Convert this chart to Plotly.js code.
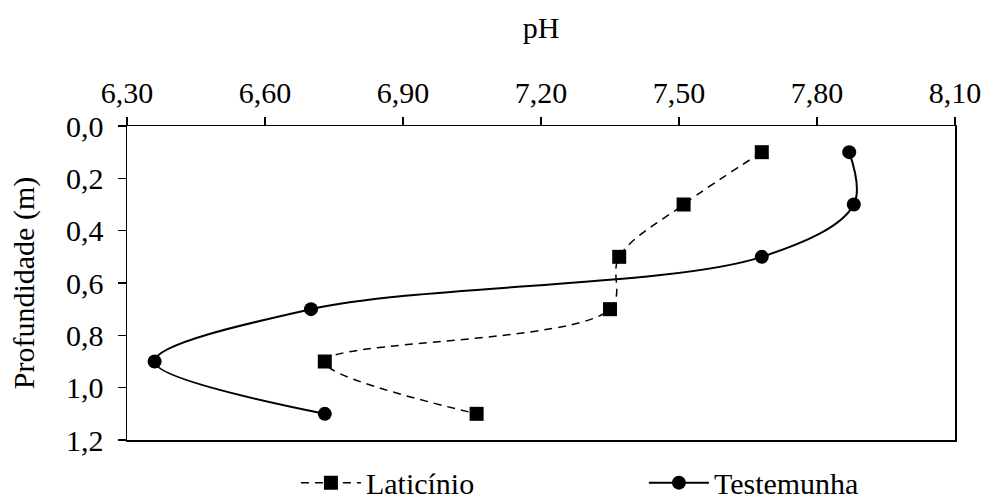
<!DOCTYPE html>
<html>
<head>
<meta charset="utf-8">
<script src="https://cdn.plot.ly/plotly-3.0.1.min.js"></script>
<style>html,body{margin:0;padding:0;background:#fff;}#chart{width:986px;height:502px;}</style>
</head>
<body>
<div id="chart"></div>
<script>
const depth = [0.1, 0.3, 0.5, 0.7, 0.9, 1.1];
const phLaticinio = [7.68, 7.51, 7.37, 7.35, 6.73, 7.06];
const phTestemunha = [7.87, 7.88, 7.68, 6.70, 6.36, 6.73];
const xTicks = [6.30, 6.60, 6.90, 7.20, 7.50, 7.80, 8.10];
const yTicks = [0.0, 0.2, 0.4, 0.6, 0.8, 1.0, 1.2];
const seriesNames = ['Laticínio', 'Testemunha'];

const fontFam = 'Liberation Serif';
const fs = 30;

const traces = [
  {
    x: phLaticinio, y: depth, name: seriesNames[0], type: 'scatter', mode: 'lines+markers',
    line: {color: '#000', width: 1.5, dash: '8px,6px', shape: 'spline', smoothing: 1},
    marker: {symbol: 'square', size: 14, color: '#000'}
  },
  {
    x: phTestemunha, y: depth, name: seriesNames[1], type: 'scatter', mode: 'lines+markers',
    line: {color: '#000', width: 2, shape: 'spline', smoothing: 1},
    marker: {symbol: 'circle', size: 14, color: '#000'}
  }
];

const layout = {
  width: 986, height: 502,
  margin: {l: 127, r: 31, t: 126, b: 62, autoexpand: false},
  paper_bgcolor: '#fff', plot_bgcolor: '#fff',
  separators: ', ',
  font: {family: fontFam, size: fs, color: '#000'},
  showlegend: true,
  legend: {orientation: 'h', x: 0.204, xanchor: 'left', xref: 'paper',
           y: -0.053, yanchor: 'top', yref: 'paper',
           font: {family: fontFam, size: fs, color: '#000'}, itemwidth: 60,
           entrywidth: 273, tracegroupgap: 0},
  xaxis: {
    side: 'top', range: [6.30, 8.10], tickvals: xTicks, tickformat: '.2f',
    showgrid: false, zeroline: false, showline: true, linecolor: '#000', linewidth: 1.5,
    mirror: true, ticks: 'outside', ticklen: 8, tickcolor: '#000', tickwidth: 1.5,
    ticklabelstandoff: 2,
    tickfont: {family: fontFam, size: fs, color: '#000'}, automargin: false,
    title: {text: 'pH', font: {family: fontFam, size: fs, color: '#000'}, standoff: 28}
  },
  yaxis: {
    range: [1.2, 0.0], tickvals: yTicks, tickformat: '.1f',
    showgrid: false, zeroline: false, showline: true, linecolor: '#000', linewidth: 1.5,
    mirror: true, ticks: 'outside', ticklen: 8, tickcolor: '#000', tickwidth: 1.5,
    ticklabelstandoff: 8,
    tickfont: {family: fontFam, size: fs, color: '#000'}, automargin: false,
    title: {text: 'Profundidade (m)', font: {family: fontFam, size: fs, color: '#000'}, standoff: 22}
  }
};

Plotly.newPlot('chart', traces, layout, {displayModeBar: false, staticPlot: true});
</script>
</body>
</html>
